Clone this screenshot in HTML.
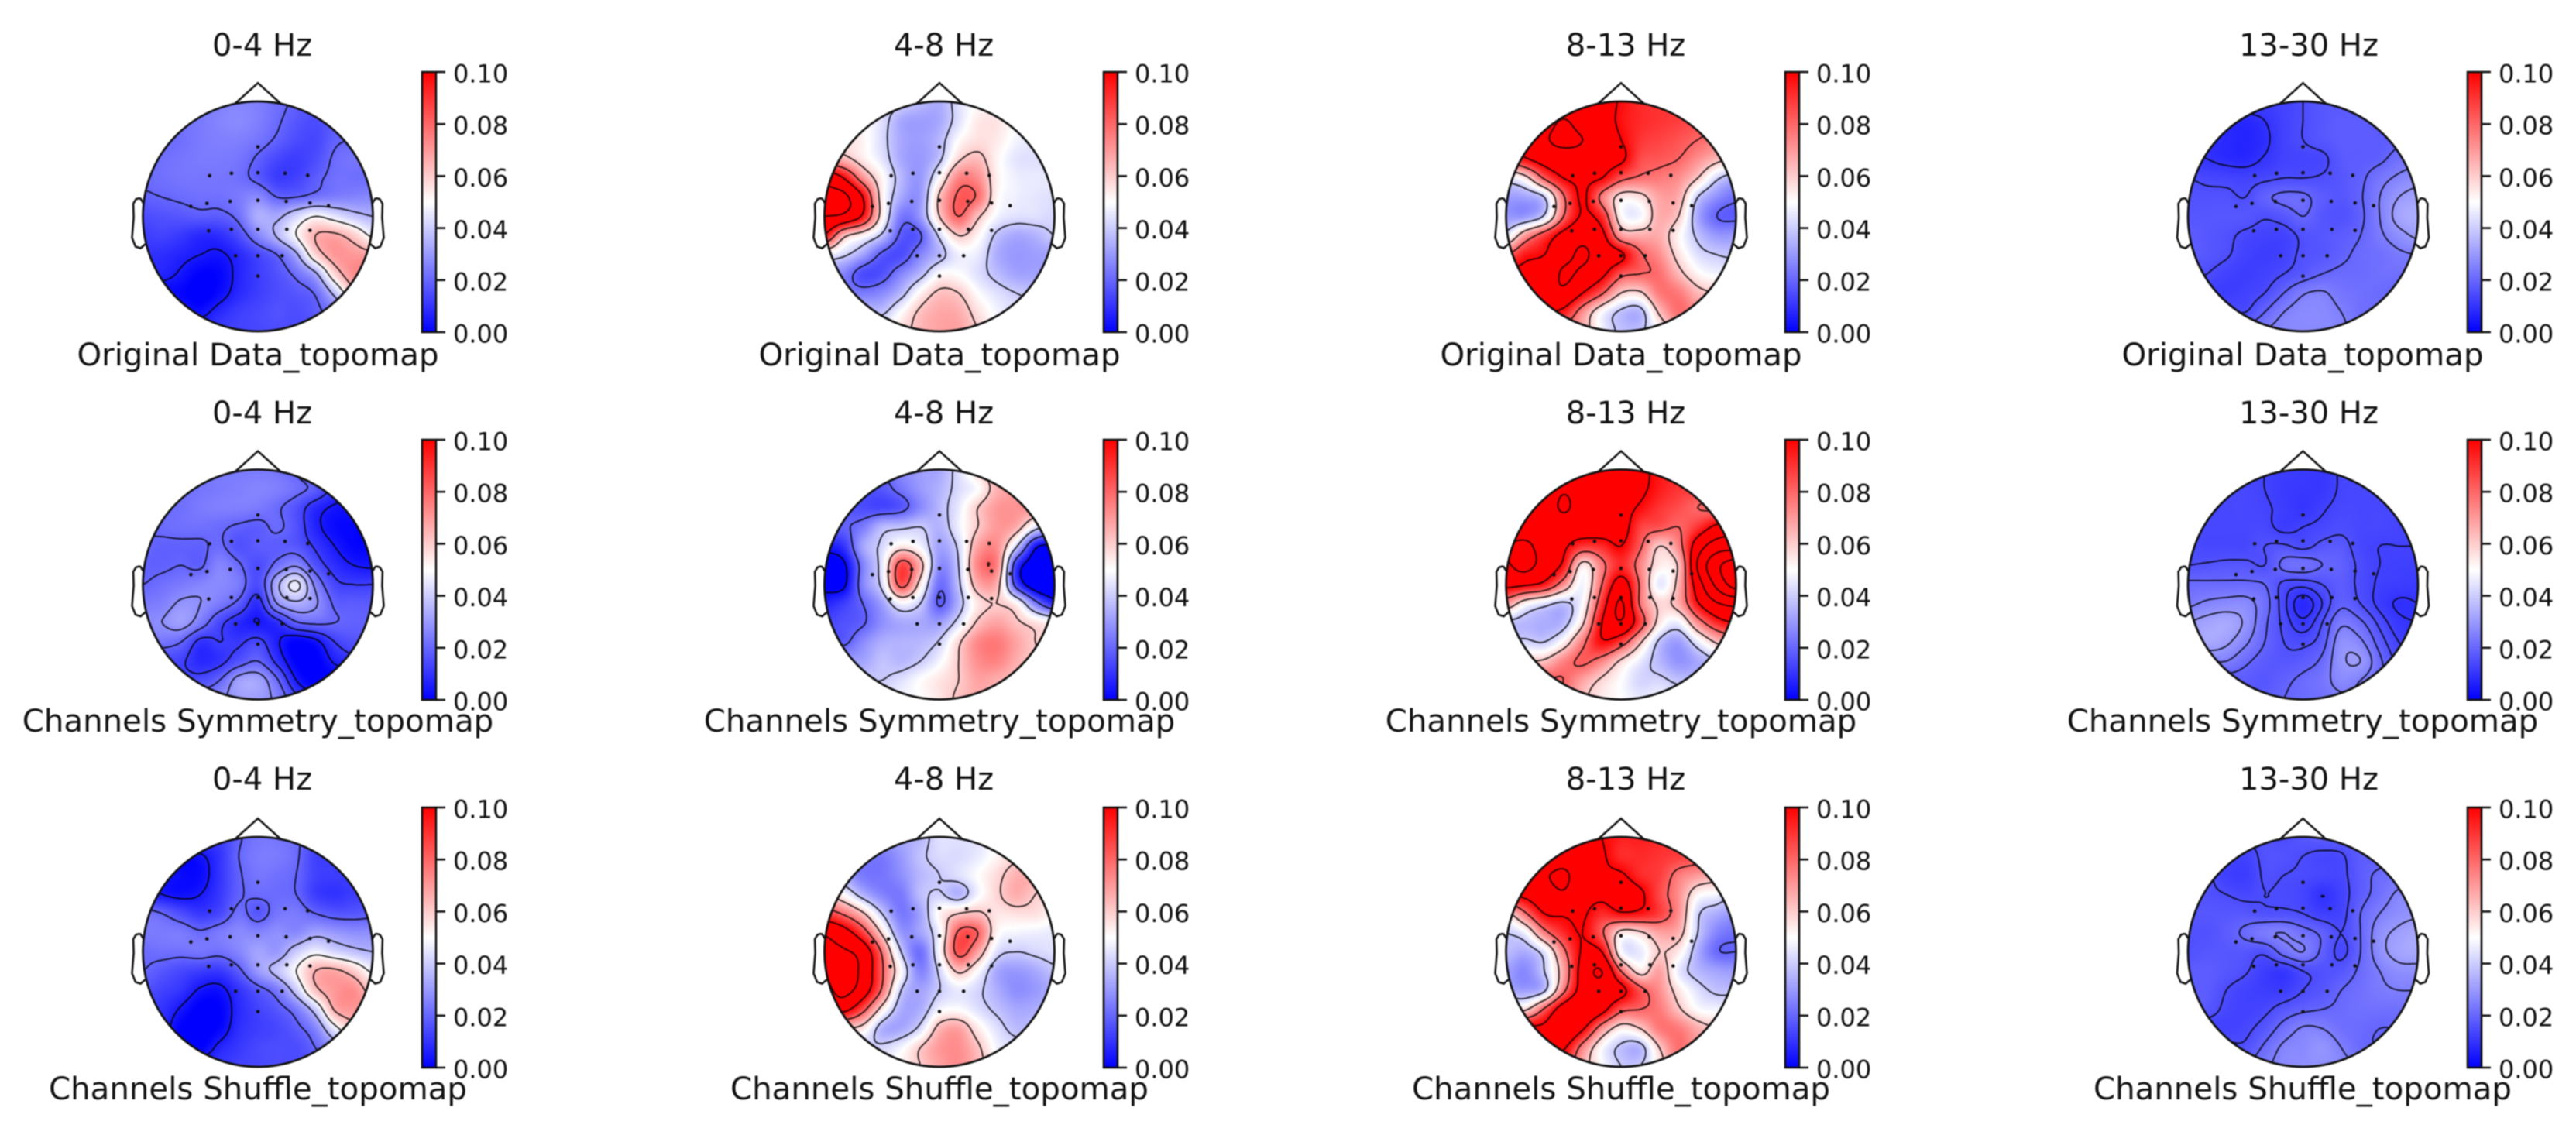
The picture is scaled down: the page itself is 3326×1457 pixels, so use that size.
<!DOCTYPE html>
<html>
<head>
<meta charset="utf-8">
<title>Topomaps by frequency band</title>
<style>
html,body{margin:0;padding:0;background:#fff;width:3326px;height:1457px;overflow:hidden}
#figure{position:relative;left:-2px;width:3326px;height:1457px;background:#fff;filter:blur(0.8px)}
#figure canvas{position:absolute;z-index:1}
#overlay{position:absolute;left:0;top:0;z-index:2}
#overlay text{font-family:"DejaVu Sans","Liberation Sans",sans-serif;fill:#111}
.title{font-size:40px}
.caption{font-size:40.3px}
.tick{font-size:32px}
</style>
</head>
<body>
<div id="figure">
<svg id="overlay" width="3326" height="1457" viewBox="0 0 3326 1457">
<defs>
<linearGradient id="bwr" x1="0" y1="1" x2="0" y2="0">
<stop offset="0" stop-color="#0000ff"/>
<stop offset="0.5" stop-color="#ffffff"/>
<stop offset="1" stop-color="#ff0000"/>
</linearGradient>
</defs>
<g id="marks"></g>
<text class="title" x="340.5" y="72" text-anchor="middle">0-4 Hz</text>
<text class="title" x="1220.5" y="72" text-anchor="middle">4-8 Hz</text>
<text class="title" x="2101" y="72" text-anchor="middle">8-13 Hz</text>
<text class="title" x="2983" y="72" text-anchor="middle">13-30 Hz</text>
<text class="title" x="340.5" y="547" text-anchor="middle">0-4 Hz</text>
<text class="title" x="1220.5" y="547" text-anchor="middle">4-8 Hz</text>
<text class="title" x="2101" y="547" text-anchor="middle">8-13 Hz</text>
<text class="title" x="2983" y="547" text-anchor="middle">13-30 Hz</text>
<text class="title" x="340.5" y="1020" text-anchor="middle">0-4 Hz</text>
<text class="title" x="1220.5" y="1020" text-anchor="middle">4-8 Hz</text>
<text class="title" x="2101" y="1020" text-anchor="middle">8-13 Hz</text>
<text class="title" x="2983" y="1020" text-anchor="middle">13-30 Hz</text>
<text class="caption" x="335" y="472" text-anchor="middle">Original Data_topomap</text>
<text class="caption" x="1215" y="472" text-anchor="middle">Original Data_topomap</text>
<text class="caption" x="2095" y="472" text-anchor="middle">Original Data_topomap</text>
<text class="caption" x="2975" y="472" text-anchor="middle">Original Data_topomap</text>
<text class="caption" x="335" y="945" text-anchor="middle">Channels Symmetry_topomap</text>
<text class="caption" x="1215" y="945" text-anchor="middle">Channels Symmetry_topomap</text>
<text class="caption" x="2095" y="945" text-anchor="middle">Channels Symmetry_topomap</text>
<text class="caption" x="2975" y="945" text-anchor="middle">Channels Symmetry_topomap</text>
<text class="caption" x="335" y="1420" text-anchor="middle">Channels Shuffle_topomap</text>
<text class="caption" x="1215" y="1420" text-anchor="middle">Channels Shuffle_topomap</text>
<text class="caption" x="2095" y="1420" text-anchor="middle">Channels Shuffle_topomap</text>
<text class="caption" x="2975" y="1420" text-anchor="middle">Channels Shuffle_topomap</text>
</svg>
</div>
<script>
// Scalp values in units of 0.001, on a 13x13 grid spanning the head, top row = front.
const original_0_4 = [
[24,24,24,24,25,26,25,22,19,18,18,18,18],
[22,22,23,24,26,27,25,21,17,15,18,20,20],
[21,21,22,24,25,25,23,19,15,14,19,20,20],
[22,22,23,24,24,23,19,14,12,15,21,23,23],
[21,22,23,23,23,22,18,12,13,18,22,22,21],
[19,20,21,22,22,24,27,20,20,23,25,26,27],
[15,16,17,18,18,22,34,33,42,50,45,39,35],
[12,13,11,8,9,15,26,36,50,65,67,60,48],
[10,9,7,5,4,8,14,20,33,58,70,70,68],
[7,7,4,0,1,7,12,16,22,33,58,72,72],
[2,2,1,-2,2,8,12,15,17,21,38,60,60],
[5,5,5,3,8,12,14,16,15,18,24,34,36],
[10,10,10,10,12,13,14,15,15,17,20,22,22]];
const original_4_8 = [
[45,45,45,45,42,37,34,44,50,52,50,48,48],
[50,50,50,44,33,31,33,44,54,55,50,48,48],
[55,55,52,43,33,31,36,50,56,54,48,46,46],
[70,64,54,45,33,30,38,58,63,52,45,44,44],
[115,100,72,52,36,30,50,74,72,53,47,46,46],
[122,124,100,54,33,30,62,82,78,52,47,45,44],
[120,116,97,54,24,30,60,80,62,48,44,44,42],
[98,64,52,38,18,19,42,60,52,38,33,35,40],
[48,42,32,18,15,26,36,47,46,34,30,31,32],
[30,26,15,16,26,36,50,50,44,37,32,32,32],
[28,26,24,27,36,52,62,60,50,44,40,38,38],
[38,38,38,38,50,62,67,66,56,48,44,42,42],
[50,50,50,52,56,64,68,68,60,50,46,44,44]];
const original_8_13 = [
[105,105,105,105,108,108,98,92,90,90,88,86,86],
[110,110,112,121,112,108,97,92,90,88,85,82,82],
[110,110,118,124,120,110,100,90,87,84,80,76,76],
[85,98,108,112,112,106,103,86,83,80,72,64,58],
[45,55,82,100,103,100,84,78,76,72,60,42,34],
[31,32,40,78,102,76,55,56,68,66,40,28,22],
[30,30,42,80,102,92,52,48,66,60,33,20,18],
[45,70,88,106,115,105,70,66,66,52,38,30,30],
[80,95,100,114,122,112,103,82,72,56,44,40,38],
[105,105,108,122,116,104,84,80,78,64,52,48,48],
[112,112,112,116,100,82,60,58,76,76,64,60,60],
[100,100,100,95,72,50,38,36,62,78,72,70,70],
[70,70,72,72,66,48,38,38,50,64,70,70,70]];
const original_13_30 = [
[14,14,14,14,13,13,15,17,17,17,17,17,17],
[10,10,9,8,10,13,15,17,18,18,18,18,18],
[9,9,8,7,9,13,15,17,18,18,18,19,19],
[11,10,8.5,8,10.5,13,13.5,14,17.5,18,19,22,23],
[15,14,13.5,13,14,15,15,15.5,17,19,23,26,28],
[16,16,16,15,19,21,21,18,17,19.5,25,30,32],
[17,17,17,17,15.5,17,20,17,16,19,25,32,34],
[18,17,16,14,13,13,16,17,18,20,24,28,31],
[18,17,15.5,13,12,13,16,17,19,21,22,24,25],
[16,15,13,12,13,15,17.5,20,21,21,22,22,22],
[13,13,12,13,15,20,24.5,25.5,23,22,21,20,20],
[16,16,16,15,20,25,27,27,25,22,21,20,20],
[20,20,20,22,25,27,27,27,26,23,21,20,20]];
const symmetry_0_4 = [
[24,24,24,24,24,24,24,23,19,13,10,10,10],
[22,22,22,23,24,25,26,25,22,18,10,7,7],
[21,21,22,24,25,25,24,21,16,8,4,3,3],
[20,21,22,22,21,19,18,21,16,7,2,1,1],
[20,19,19,19,21,16,18,18,17,11,5,1,1],
[19,19,20,19,26,21,15,22,27,16,9,5,4],
[20,22,24,26,27,24,15,34,46,26,14,12,12],
[24,25,29,28,24,18,9,28,34,29,19,18,18],
[27,28,31,24,14,8,5,9,19,21,20,19,19],
[24,23,20,10,12,11,14,6,0,3,12,16,16],
[15,14,13,8,10,16,20,10,0,-1,6,10,10],
[15,15,15,15,20,31,32,21,5,-1,0,5,5],
[20,20,22,24,27,31,31,26,14,6,6,6,6]];
const symmetry_4_8 = [
[18,18,18,20,27,31,33,44,58,68,70,70,70],
[16,16,16,17,23,30,35,43,50,65,69,70,70],
[17,17,15,14,17,27,36,46,60,70,71,70,68],
[20,19,24,36,38,40,35,47,60,70,66,45,35],
[5,10,32,42,54,48,32,42,68,72,42,5,0],
[-2,0,25,45,86,65,28,40,74,74,12,-5,-8],
[-1,0,26,43,84,55,22,38,66,65,15,-6,-8],
[7,12,20,31,48,40,19,35,55,60,52,25,8],
[14,16,19,28,33,33,31,44,62,68,62,56,52],
[18,18,27,34,35,36,41,58,73,76,68,60,55],
[32,32,32,38,36,40,48,60,72,74,66,60,60],
[40,40,40,40,44,50,55,60,68,66,62,60,60],
[48,48,48,48,48,50,55,62,66,66,64,62,62]];
const symmetry_8_13 = [
[108,108,108,110,112,110,108,104,96,92,90,90,90],
[108,108,110,118,113,110,108,103,95,90,88,88,88],
[108,108,110,122,112,110,106,98,90,85,80,78,78],
[112,112,112,110,110,110,108,88,84,80,90,104,110],
[120,123,113,103,90,92,100,82,60,74,110,130,132],
[118,125,112,96,55,76,92,74,54,62,122,155,170],
[105,102,95,72,48,80,108,78,46,65,110,145,168],
[70,52,44,38,50,90,122,78,58,66,98,118,125],
[38,36,34,36,58,100,118,88,55,47,72,92,100],
[42,42,40,52,76,98,88,62,38,31,46,62,70],
[60,60,62,74,82,74,58,46,36,29,33,40,45],
[80,80,80,80,68,58,50,42,42,38,38,42,42],
[75,75,75,75,62,54,50,46,48,46,44,44,44]];
const symmetry_13_30 = [
[14,14,14,14,13,12,11.5,11,13.5,14,14,14,14],
[14,14,14,14,13,11.5,11,11,13.5,14,14,14,14],
[14,14,14,14,13.5,12,10.5,12.5,14,14,14,14,14],
[14,14,14,14,14,12,13,14,15,14,14,13.5,13.5],
[15,14,14,14,16,16.5,15,17,17.5,14,13,13,13],
[16,16.5,17,17,16,21,22,20,19,15,13,12.5,12.5],
[21,21,21,21,20,15,14,16,18,15,12.5,12,11.5],
[24,26,27,27,22,14,8,13,19,16,12,9.5,10],
[30,32,33,29,21,15,11,16,24,21,15,11,10],
[30,33,31,26,20,16,15,18,28,26,18,13,12],
[25,25,25,21,18,17,18,21,29,30,21,15,15],
[18,18,18,18,17,19,21,23,27,25,21,18,18],
[18,18,18,18,18,20,21,22,24,24,22,20,20]];
const shuffle_0_4 = [
[20,20,20,14,12,19,23,23,21,16,13,13,13],
[10,10,2,4,10,20,24,24,21,13,12,12,12],
[12,5,2,2,10,19,23,22,20,13,12,12,12],
[10,5,3,5,11,19,21,21,20,12,10,12,13],
[23,20,15,11,14,22,17,23,24,20,17,17,18],
[24,24,24,21,24,27,26,28,27,32,30,28,28],
[21,22,22,23,22,26,32,30,40,47,42,38,35],
[20,17,14,12,11,18,30,38,50,65,67,60,48],
[16,13,10,4,3,10,17,24,40,62,70,72,60],
[11,10,4,-1,0,8,13,17,24,40,66,70,68],
[8,8,0,-2,1,9,12,14,18,26,46,60,60],
[6,6,2,0,7,11,14,15,15,20,28,34,34],
[10,10,10,10,11,13,14,15,15,17,20,22,22]];
const shuffle_4_8 = [
[30,30,30,32,33,36,44,44,45,50,55,60,60],
[28,26,25,24,30,38,43,43,46,52,58,62,62],
[35,32,24,23,28,36,40,44,50,57,65,66,62],
[60,50,35,26,24,37,41,35,48,58,66,60,54],
[88,78,62,40,24,32,52,60,62,55,56,56,52],
[118,108,88,58,30,32,48,82,80,52,48,47,46],
[122,122,112,78,40,22,50,84,68,44,40,42,44],
[120,128,115,82,50,26,42,62,50,33,30,33,38],
[115,125,110,78,40,32,40,46,42,34,28,30,34],
[105,105,85,55,34,34,48,50,44,38,33,34,38],
[60,60,55,35,33,43,64,68,54,44,37,38,38],
[42,42,42,42,48,60,70,72,62,48,44,42,42],
[50,50,50,50,52,60,68,72,64,52,48,46,46]];
const shuffle_8_13 = [
[105,105,108,112,108,100,94,94,92,88,85,85,85],
[106,106,108,114,108,102,92,92,90,88,85,80,80],
[108,108,118,122,112,103,102,92,88,76,70,66,66],
[100,104,112,118,108,104,110,103,86,72,52,48,40],
[56,78,100,102,102,92,98,96,88,72,42,34,30],
[40,48,75,92,100,82,56,58,68,65,40,26,22],
[37,34,45,76,102,100,50,46,60,54,34,21,20],
[32,27,40,68,108,120,80,55,68,46,36,32,30],
[34,31,38,76,108,112,105,84,72,55,44,38,38],
[60,58,82,110,118,106,84,80,76,62,50,48,48],
[104,104,104,118,102,72,54,60,76,76,66,60,60],
[102,102,102,102,74,50,38,36,60,78,70,70,70],
[90,90,90,90,66,50,40,40,54,72,72,72,72]];
const shuffle_13_30 = [
[16,16,16,16,16,15,17,18,18,18,18,18,18],
[16,16,14,13,16,16,15,14,14.5,18,18,19,19],
[17,16,12.5,12,15.5,15,14.5,14,14,18,21,22,22],
[17,16,15,14,15,14.5,13.5,10,13,18,22,26,27],
[17,17,17,17,16,16,15,12.5,13.5,20,25,28,29],
[16,16,18,21,24,25,22,19,15,20,28,31,33],
[16,17,17,17,16,22,25,19,14,20,28,32,33],
[18,18,17,15.5,12,11,15,16,17,21,25,28,28],
[18,18,15,13,12,12,15,17,20,22,24,25,25],
[18,17,14,13,14,17,19,20,21,22,22,22,22],
[13,13,13,14,17,22,25.5,25,22,21,20,20,20],
[16,16,16,16,21,26,27,29,25,21,20,20,20],
[18,18,18,20,24,27,28,28,27,24,21,20,20]];

// Contour levels for each panel, in units of 0.001.
const levels_original_0_4 = [5,20,35,50,65];
const levels_original_4_8 = [20,40,60,80,100,120];
const levels_original_8_13 = [20,40,60,80,100,120];
const levels_original_13_30 = [10,15,20,25,30];
const levels_symmetry_0_4 = [5,12,20,28,36,44,52];
const levels_symmetry_4_8 = [2,20,40,60,80];
const levels_symmetry_8_13 = [40,60,80,100,120,140,160];
const levels_symmetry_13_30 = [10,13,16,20,25,30];
const levels_shuffle_0_4 = [5,20,35,50,65];
const levels_shuffle_4_8 = [20,40,60,80,100,120];
const levels_shuffle_8_13 = [20,40,60,80,100,120];
const levels_shuffle_13_30 = [10,15,20,25,30];

// Electrode locations in head coordinates (head radius = 1).
const sensorX = [0,0,-0.23,-0.42,0.236,0.433,0,-0.241,-0.443,-0.583,0.246,0.453,0.614,0,-0.231,-0.428,0.251,0.453,0,-0.194,0.21,0];
const sensorY = [0.605,0.38,0.375,0.354,0.375,0.357,0.14,0.131,0.113,0.086,0.131,0.117,0.093,-0.113,-0.113,-0.126,-0.113,-0.122,-0.343,-0.343,-0.343,-0.519];

// Colourbar ticks.
const cbarTickValues = [0,20,40,60,80,100];
const cbarTickLabels = ['0.00','0.02','0.04','0.06','0.08','0.10'];
const vMin = 0;
const vMax = 100;

// Head outline shape (head radius = 0.5).
const earX = [0.497,0.510,0.518,0.5299,0.5419,0.54,0.547,0.532,0.510,0.489];
const earY = [0.0555,0.0775,0.0783,0.0746,0.0555,-0.0055,-0.0932,-0.1313,-0.1384,-0.1199];
const noseX = [-0.1,0,0.1];
const noseY = [0.49,0.58,0.49];

const conditionNames = ['original','symmetry','shuffle'];
const bandNames = ['0-4','4-8','8-13','13-30'];
const panelGrids = [
  [original_0_4,original_4_8,original_8_13,original_13_30],
  [symmetry_0_4,symmetry_4_8,symmetry_8_13,symmetry_13_30],
  [shuffle_0_4,shuffle_4_8,shuffle_8_13,shuffle_13_30]
];
const panelLevels = [
  [levels_original_0_4,levels_original_4_8,levels_original_8_13,levels_original_13_30],
  [levels_symmetry_0_4,levels_symmetry_4_8,levels_symmetry_8_13,levels_symmetry_13_30],
  [levels_shuffle_0_4,levels_shuffle_4_8,levels_shuffle_8_13,levels_shuffle_13_30]
];

const figure = document.getElementById('figure');
const overlay = document.getElementById('overlay');
const marks = document.getElementById('marks');
const NS = overlay.namespaceURI;
const headR = 148.5;
const colX = [335,1215,2095,2975.5];
const rowY = [279.5,755,1229.5];
const cbarX = [547,1427,2307,3188];
const cbarTop = [93,568,1043];
const cbarW = 18;
const cbarH = 336;

function svgEl(tag, attrs, parent) {
  const el = document.createElementNS(NS, tag);
  for (const k in attrs) el.setAttribute(k, attrs[k]);
  parent.appendChild(el);
  return el;
}
function catmull(t) {
  const t2 = t*t, t3 = t2*t;
  return [-0.5*t3+t2-0.5*t, 1.5*t3-2.5*t2+1, -1.5*t3+2*t2+0.5*t, 0.5*t3-0.5*t2];
}
function sampleField(grid, u, v) {
  const n = grid.length - 1;
  const gx = Math.max(0, Math.min(n, (u+1)/2*n));
  const gy = Math.max(0, Math.min(n, (1-v)/2*n));
  const ix = Math.min(n-1, Math.floor(gx)), iy = Math.min(n-1, Math.floor(gy));
  const wx = catmull(gx-ix), wy = catmull(gy-iy);
  let s = 0;
  for (let j=0;j<4;j++) {
    const row = grid[Math.max(0, Math.min(n, iy+j-1))];
    for (let i=0;i<4;i++) s += wy[j]*wx[i]*row[Math.max(0, Math.min(n, ix+i-1))];
  }
  return s;
}
function bwr(value) {
  const t = Math.max(0, Math.min(1, (value-vMin)/(vMax-vMin)));
  if (t < 0.5) { const c = Math.round(510*t); return [c,c,255]; }
  const c = Math.round(510*(1-t));
  return [255,c,c];
}
function drawHeat(grid, cx, cy, name) {
  const size = Math.ceil(headR*2)+4;
  const canvas = document.createElement('canvas');
  canvas.width = size; canvas.height = size;
  const left = Math.round(cx-size/2), top = Math.round(cy-size/2);
  canvas.style.left = left+'px';
  canvas.style.top = top+'px';
  
  
  canvas.title = name;
  const ctx = canvas.getContext('2d');
  const img = ctx.createImageData(size,size);
  for (let y=0;y<size;y++) for (let x=0;x<size;x++) {
    const dx = left+x+0.5-cx, dy = top+y+0.5-cy;
    const d = Math.sqrt(dx*dx+dy*dy);
    if (d > headR+1) continue;
    const c = bwr(sampleField(grid, dx/headR, -dy/headR));
    const p = (y*size+x)*4;
    img.data[p]=c[0]; img.data[p+1]=c[1]; img.data[p+2]=c[2];
    img.data[p+3]=Math.round(255*Math.max(0,Math.min(1,headR+0.5-d)));
  }
  ctx.putImageData(img,0,0);
  figure.appendChild(canvas);
}
function contourPath(grid, level, cx, cy) {
  const step = 3, half = Math.ceil(headR/step)+1;
  const n = 2*half+1, vals = [];
  for (let j=0;j<n;j++) {
    const row = [];
    for (let i=0;i<n;i++) row.push(sampleField(grid,(i-half)*step/headR,-(j-half)*step/headR));
    vals.push(row);
  }
  let d = '';
  const px = (i) => (cx+(i-half)*step).toFixed(1);
  const py = (j) => (cy+(j-half)*step).toFixed(1);
  for (let j=0;j<n-1;j++) for (let i=0;i<n-1;i++) {
    const a=vals[j][i], b=vals[j][i+1], c=vals[j+1][i+1], e=vals[j+1][i];
    const pts = [];
    if ((a<level)!==(b<level)) pts.push([px(i+(level-a)/(b-a)),py(j)]);
    if ((b<level)!==(c<level)) pts.push([px(i+1),py(j+(level-b)/(c-b))]);
    if ((e<level)!==(c<level)) pts.push([px(i+(level-e)/(c-e)),py(j+1)]);
    if ((a<level)!==(e<level)) pts.push([px(i),py(j+(level-a)/(e-a))]);
    for (let k=0;k+1<pts.length;k+=2) d += 'M'+pts[k][0]+' '+pts[k][1]+'L'+pts[k+1][0]+' '+pts[k+1][1];
  }
  return d;
}
function drawHeadOutline(group, cx, cy) {
  const scale = headR*2;
  const nosePts = noseX.map((x,i)=>(cx+x*scale).toFixed(1)+','+(cy-noseY[i]*scale).toFixed(1)).join(' ');
  const nose = svgEl('polyline',{points:nosePts,fill:'none',stroke:'#111','stroke-width':2.6,'stroke-linejoin':'miter'},group);
  
  
  [1,-1].forEach(side=>{
    const pts = earX.map((x,i)=>(cx+side*x*scale).toFixed(1)+','+(cy-earY[i]*scale).toFixed(1)).join(' ');
    const ear = svgEl('polyline',{points:pts,fill:'none',stroke:'#111','stroke-width':2.6,'stroke-linejoin':'round'},group);
    
    
  });
  const outline = svgEl('circle',{cx:cx,cy:cy,r:headR,fill:'none',stroke:'#111','stroke-width':2.8},group);
  
  
}
function drawColorbar(group, col, row) {
  const x = cbarX[col], top = cbarTop[row];
  const yOf = (v) => top+cbarH-(v-vMin)/(vMax-vMin)*cbarH;
  const bar = svgEl('rect',{x:x,y:top,width:cbarW,height:cbarH,fill:'url(#bwr)',stroke:'#111','stroke-width':2.6},group);
  
  
  cbarTickValues.forEach((v,i)=>{
    const y = yOf(v);
    const tick = svgEl('line',{x1:x+cbarW,x2:x+cbarW+12,y1:y,y2:y,stroke:'#111','stroke-width':2.6},group);
    
    
    const label = svgEl('text',{x:x+40,y:y+13.5,class:'tick'},group);
    label.textContent = cbarTickLabels[i];
    
    
  });
}

conditionNames.forEach((cond,row)=>{
  bandNames.forEach((band,col)=>{
    const grid = panelGrids[row][col];
    const cx = colX[col], cy = rowY[row];
    const xScale = (u) => cx+u*headR;
    const yScale = (v) => cy-v*headR;
    const panelId = cond+'-'+band;
    drawHeat(grid,cx,cy,panelId);
    const group = svgEl('g',{},marks);
    
    
    const clip = svgEl('clipPath',{id:'clip-'+panelId},group);
    svgEl('circle',{cx:cx,cy:cy,r:headR},clip);
    const lines = svgEl('g',{'clip-path':'url(#clip-'+panelId+')'},group);
    panelLevels[row][col].forEach(level=>{
      const path = svgEl('path',{d:contourPath(grid,level,cx,cy),fill:'none',stroke:'#000','stroke-opacity':0.8,'stroke-width':1.9,'stroke-linecap':'round'},lines);
      
      
    });
    sensorX.forEach((sx,i)=>{
      const dot = svgEl('circle',{cx:xScale(sx),cy:yScale(sensorY[i]),r:2.3,fill:'#111'},group);
      
      
    });
    drawHeadOutline(group,cx,cy);
    drawColorbar(group,col,row);
  });
});
</script>
</body>
</html>
